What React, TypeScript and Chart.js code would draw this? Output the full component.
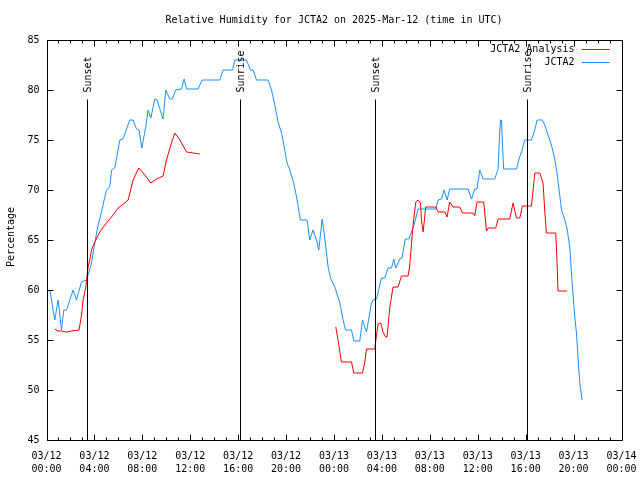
import { useEffect, useRef } from "react";
import { Chart, registerables } from "chart.js";

Chart.register(...registerables);

const FONT = "'DejaVu Sans Mono', 'Liberation Mono', monospace";

const chartTitle = "Relative Humidity for JCTA2 on 2025-Mar-12 (time in UTC)";
const yAxisTitle = "Percentage";
const seriesNames = ["JCTA2 Analysis", "JCTA2"];
const seriesColors = ["#ff0000", "#1e90ff"];

// x: hours since 03/12 00:00 UTC
const xTickHours = [0, 4, 8, 12, 16, 20, 24, 28, 32, 36, 40, 44, 48];
const xTickDates = ["03/12", "03/12", "03/12", "03/12", "03/12", "03/12", "03/13", "03/13", "03/13", "03/13", "03/13", "03/13", "03/14"];
const xTickTimes = ["00:00", "04:00", "08:00", "12:00", "16:00", "20:00", "00:00", "04:00", "08:00", "12:00", "16:00", "20:00", "00:00"];
const yTicks = [45, 50, 55, 60, 65, 70, 75, 80, 85];

const sunHours = [3.36, 16.14, 27.4, 40.1];
const sunLabels = ["Sunset", "Sunrise", "Sunset", "Sunrise"];

const obsHours = [0.28, 0.69, 0.83, 0.97, 1.11, 1.25, 1.44, 1.67, 2.22, 2.5,
  2.92, 3.34, 3.76, 4.03, 4.31, 4.59, 4.81, 5.01, 5.28, 5.43,
  5.7, 6.12, 6.39, 6.95, 7.23, 7.51, 7.73, 7.95, 8.29, 8.48,
  8.71, 9.04, 9.23, 9.73, 9.96, 10.29, 10.52, 10.79, 11.27, 11.49,
  11.69, 12.65, 12.99, 14.47, 14.74, 15.53, 15.72, 16.69, 17.03, 17.25,
  17.53, 18.5, 18.78, 19.06, 19.33, 19.62, 19.89, 20.08, 20.31, 20.64,
  20.92, 21.2, 21.75, 21.98, 22.25, 22.54, 22.73, 23.01, 23.23, 23.51,
  23.71, 24.07, 24.49, 24.76, 24.96, 25.46, 25.65, 26.15, 26.38, 26.71,
  27.13, 27.26, 27.55, 27.96, 28.24, 28.51, 28.8, 28.99, 29.16, 29.49,
  29.68, 29.95, 30.24, 30.6, 30.83, 31.02, 32.5, 32.69, 32.97, 33.19,
  33.44, 33.66, 35.19, 35.48, 35.75, 35.94, 36.17, 36.44, 37.42, 37.7,
  37.78, 37.9, 37.98, 38.06, 38.17, 39.23, 39.45, 39.73, 39.92, 40.48,
  40.76, 40.95, 41.4, 41.59, 41.87, 42.15, 42.43, 42.62, 42.79, 42.99,
  43.27, 43.46, 43.68, 43.91, 44.1, 44.24, 44.38, 44.52, 44.71];
const obsValues = [60, 57, 58, 59, 57.5, 56, 58, 58, 60, 59,
  60.8, 61, 62.7, 64.7, 66.5, 67.8, 69, 70, 70.3, 72,
  72.2, 75, 75.1, 77, 77, 76.1, 76, 74.2, 76.3, 78,
  77.2, 79.1, 79, 77.1, 80, 79.1, 79.1, 80, 80.1, 81.1,
  80.1, 80.1, 81, 81, 82, 82, 83, 83, 82, 82,
  81, 81, 80, 78.5, 76.8, 75.7, 74, 72.7, 72, 70.7,
  69, 67, 67, 65, 66, 65, 64, 67.1, 65.2, 62.3,
  61.2, 60.3, 58.7, 57, 56, 56, 54.9, 54.9, 57, 55.8,
  58.7, 59, 59.1, 61.2, 61.2, 62.2, 62.2, 63.1, 62.2, 63.1,
  63.2, 65.1, 65.1, 66.2, 67.2, 68.1, 68.1, 69, 69.1, 70,
  69, 70.1, 70.1, 69.1, 70.1, 70.1, 72, 71.1, 71.1, 72.1,
  74.5, 77, 77, 74.5, 72.1, 72.1, 73.1, 74.1, 75, 75,
  76, 77, 77, 76.5, 75.5, 74.5, 73.1, 71.7, 70, 68,
  67, 66.1, 64.3, 60.2, 57.3, 55.7, 53, 50.7, 49];

const anaHours1 = [0.69, 0.97, 1.25, 1.67, 2.09, 2.72, 2.92, 3.06, 3.28, 3.47,
  3.61, 3.76, 4.03, 4.45, 4.87, 5.43, 5.98, 6.54, 6.81, 7.23,
  7.7, 8.21, 8.71, 9.18, 9.73, 10.02, 10.43, 10.71, 11.13, 11.69,
  12.24, 12.8];
const anaValues1 = [56.1, 55.9, 55.9, 55.8, 55.9, 56, 57.5, 59, 60.3, 62.3,
  63, 64, 64.8, 65.8, 66.5, 67.3, 68.2, 68.7, 69, 71,
  72.2, 71.5, 70.7, 71.1, 71.4, 73, 74.7, 75.7, 75, 73.8,
  73.7, 73.6];
const anaHours2 = [24.15, 24.34, 24.62, 25.46, 25.65, 26.38, 26.57, 26.71, 27.4, 27.55,
  27.68, 27.9, 28.09, 28.32, 28.43, 28.65, 28.93, 29.35, 29.63, 30.18,
  30.31, 30.6, 30.83, 31.02, 31.22, 31.3, 31.44, 31.66, 32.5, 32.69,
  33.25, 33.44, 33.66, 33.94, 34.5, 34.72, 35.61, 35.75, 35.94, 36.5,
  36.73, 36.86, 37.5, 37.7, 38.67, 38.95, 39.23, 39.51, 39.73, 40.48,
  40.62, 40.76, 41.18, 41.45, 41.59, 41.73, 42.51, 42.62, 42.7, 43.45];
const anaValues2 = [56.3, 55, 52.8, 52.8, 51.7, 51.7, 52.8, 54.1, 54.1, 55.5,
  56.6, 56.7, 55.8, 55.3, 55.3, 58.2, 60.3, 60.3, 61.4, 61.4,
  62.3, 66.5, 68.8, 69, 68.7, 67, 65.8, 68.3, 68.3, 67.8,
  67.8, 67.3, 68.8, 68.3, 68.3, 67.7, 67.7, 67.4, 68.8, 68.8,
  65.9, 66.2, 66.2, 67.1, 67.1, 68.7, 67.2, 67.2, 68.4, 68.4,
  70, 71.7, 71.7, 70.7, 68, 65.7, 65.7, 62.8, 59.9, 59.9];

const toPoints = (xs: number[], ys: number[]) => xs.map((x, i) => ({ x, y: ys[i] }));

const gnuplotFrame = {
  id: "gnuplotFrame",
  beforeDraw(chart: any) {
    const { ctx, width, height } = chart;
    ctx.save();
    ctx.fillStyle = "#ffffff";
    ctx.fillRect(0, 0, width, height);
    ctx.restore();
  },
  afterDatasetsDraw(chart: any) {
    const { ctx, chartArea: a, scales } = chart;
    const xs = scales.x;
    const ys = scales.y;
    const L = Math.round(a.left) + 0.5;
    const R = Math.round(a.right) + 0.5;
    const T = Math.round(a.top) + 0.5;
    const B = Math.round(a.bottom) + 0.5;
    ctx.save();
    ctx.strokeStyle = "#000";
    ctx.fillStyle = "#000";
    ctx.lineWidth = 1;
    ctx.font = "10px " + FONT;

    // sunrise / sunset markers
    sunHours.forEach((h, i) => {
      const px = Math.round(xs.getPixelForValue(h)) + 0.5;
      ctx.beginPath();
      ctx.moveTo(px, T + 59);
      ctx.lineTo(px, B);
      ctx.stroke();
      ctx.save();
      ctx.translate(px + 1, T + 52);
      ctx.rotate(-Math.PI / 2);
      ctx.textAlign = "left";
      ctx.textBaseline = "middle";
      ctx.fillText(sunLabels[i], 0, 0);
      ctx.restore();
    });

    // border
    ctx.beginPath();
    ctx.rect(L, T, R - L, B - T);
    ctx.stroke();

    // x ticks (major every 4 h, minor every hour), inward on bottom and top
    ctx.beginPath();
    for (let h = xs.min; h <= xs.max; h += 1) {
      const px = Math.round(xs.getPixelForValue(h)) + 0.5;
      const len = xTickHours.includes(h) ? 6 : 3;
      ctx.moveTo(px, B);
      ctx.lineTo(px, B - len);
      ctx.moveTo(px, T);
      ctx.lineTo(px, T + len);
    }
    // y ticks on both sides
    yTicks.forEach((v) => {
      const py = Math.round(ys.getPixelForValue(v)) + 0.5;
      ctx.moveTo(L, py);
      ctx.lineTo(L + 6, py);
      ctx.moveTo(R, py);
      ctx.lineTo(R - 6, py);
    });
    ctx.stroke();

    // legend
    ctx.textAlign = "right";
    ctx.textBaseline = "middle";
    seriesNames.forEach((name, i) => {
      const ry = Math.round(a.top + 9 + i * 13) + 0.5;
      ctx.fillStyle = "#000";
      ctx.fillText(name, a.right - 47, ry);
      ctx.strokeStyle = seriesColors[i];
      ctx.beginPath();
      ctx.moveTo(a.right - 40, ry);
      ctx.lineTo(a.right - 12, ry);
      ctx.stroke();
    });

    // title
    ctx.fillStyle = "#000";
    ctx.textAlign = "center";
    ctx.textBaseline = "middle";
    ctx.fillText(chartTitle, (a.left + a.right) / 2, 20);

    // y-axis title
    ctx.save();
    ctx.translate(11, (a.top + a.bottom) / 2 - 3);
    ctx.rotate(-Math.PI / 2);
    ctx.fillText(yAxisTitle, 0, 0);
    ctx.restore();

    ctx.restore();
  },
};

export default function App() {
  const canvasRef = useRef<HTMLCanvasElement | null>(null);

  useEffect(() => {
    if (!canvasRef.current) return;
    const chart = new Chart(canvasRef.current, {
      type: "line",
      data: {
        datasets: [
          {
            label: seriesNames[0],
            data: [...toPoints(anaHours1, anaValues1), { x: (anaHours1[anaHours1.length - 1] + anaHours2[0]) / 2, y: null as any }, ...toPoints(anaHours2, anaValues2)],
            borderColor: seriesColors[0],
            borderWidth: 1,
            pointRadius: 0,
            tension: 0,
            spanGaps: false,
            fill: false,
          },
          {
            label: seriesNames[1],
            data: toPoints(obsHours, obsValues),
            borderColor: seriesColors[1],
            borderWidth: 1,
            pointRadius: 0,
            tension: 0,
            fill: false,
          },
        ],
      },
      options: {
        responsive: false,
        animation: false,
        events: [],
        layout: { padding: { left: 0, right: 18.5, top: 40, bottom: 0 } },
        plugins: {
          legend: { display: false },
          title: { display: false },
          tooltip: { enabled: false },
        },
        scales: {
          x: {
            type: "linear",
            min: 0,
            max: 48,
            afterBuildTicks: (scale: any) => {
              scale.ticks = xTickHours.map((v) => ({ value: v }));
            },
            afterFit: (scale: any) => {
              scale.height = 40;
              scale.paddingLeft = 0;
              scale.paddingRight = 0;
            },
            grid: { display: false, drawTicks: false },
            border: { display: false },
            ticks: {
              autoSkip: false,
              maxRotation: 0,
              minRotation: 0,
              padding: 10,
              color: "#000",
              font: { family: FONT, size: 10, lineHeight: 1.3 },
              callback: (_v: any, i: number) => [xTickDates[i], xTickTimes[i]],
            },
          },
          y: {
            type: "linear",
            min: 45,
            max: 85,
            afterBuildTicks: (scale: any) => {
              scale.ticks = yTicks.map((v) => ({ value: v }));
            },
            afterFit: (scale: any) => {
              scale.width = 46.5;
              scale.paddingTop = 0;
              scale.paddingBottom = 0;
            },
            grid: { display: false, drawTicks: false },
            border: { display: false },
            ticks: {
              padding: 7,
              color: "#000",
              font: { family: FONT, size: 10 },
            },
          },
        },
      },
      plugins: [gnuplotFrame],
    });
    return () => chart.destroy();
  }, []);

  return (
    <div style={{ position: "absolute", left: 0, top: 0, width: 640, height: 480, background: "#fff" }}>
      <canvas ref={canvasRef} width={640} height={480} style={{ display: "block" }} />
    </div>
  );
}
